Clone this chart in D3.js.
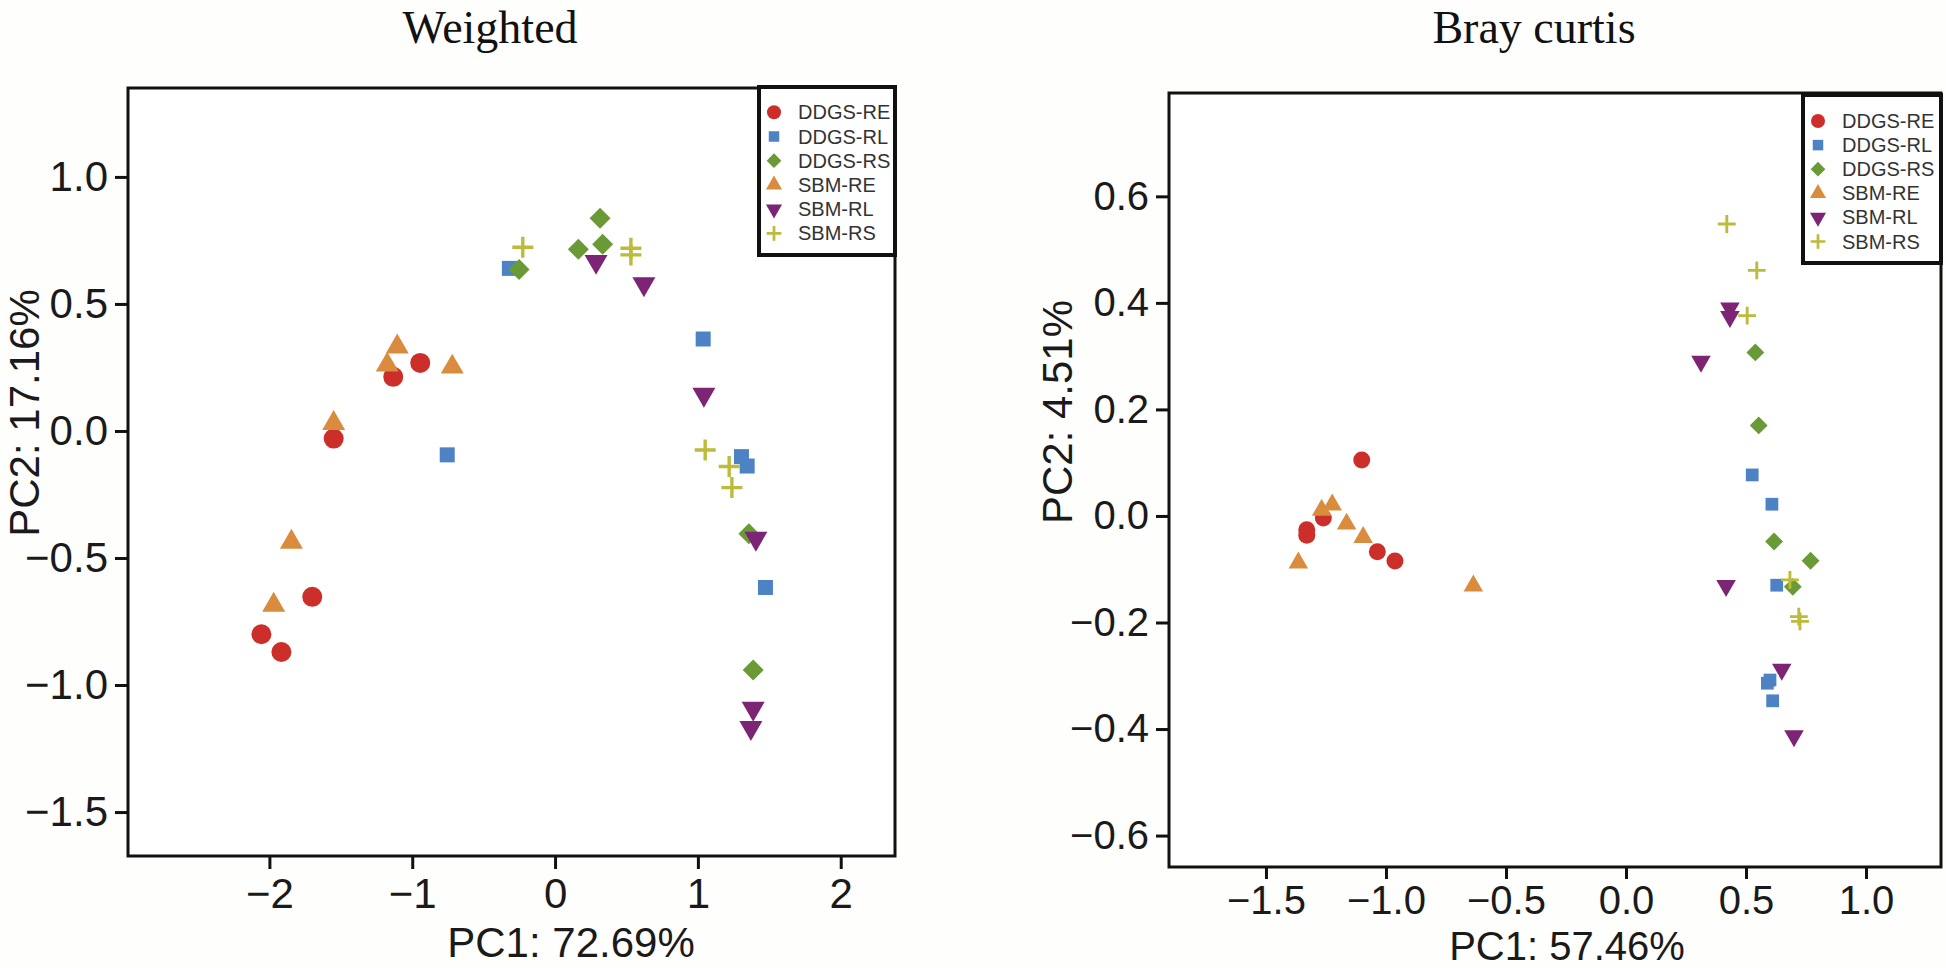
<!DOCTYPE html>
<html>
<head>
<meta charset="utf-8">
<script src="https://cdn.jsdelivr.net/npm/d3@7/dist/d3.min.js"></script>
<style>
  html, body { margin: 0; padding: 0; background: #fefefd; }
  svg { display: block; }
</style>
</head>
<body>
<svg id="chart" width="1946" height="968"></svg>
<script>
// ---------------- DATA ----------------
const categories = ["DDGS-RE", "DDGS-RL", "DDGS-RS", "SBM-RE", "SBM-RL", "SBM-RS"];

// Weighted PCoA  [PC1, PC2]
const weightedDDGS_RE = [[-1.133, 0.213], [-0.944, 0.268], [-1.55, -0.03], [-1.70, -0.653], [-2.056, -0.80], [-1.916, -0.87]];
const weightedDDGS_RL = [[-0.755, -0.094], [-0.32, 0.64], [1.037, 0.362], [1.305, -0.101], [1.345, -0.138], [1.473, -0.616]];
const weightedDDGS_RS = [[-0.252, 0.636], [0.315, 0.837], [0.163, 0.715], [0.333, 0.735], [1.357, -0.405], [1.387, -0.941]];
const weightedSBM_RE  = [[-1.105, 0.331], [-1.175, 0.26], [-0.72, 0.252], [-1.55, 0.03], [-1.846, -0.437], [-1.97, -0.685]];
const weightedSBM_RL  = [[0.287, 0.667], [0.622, 0.579], [1.042, 0.144], [1.406, -0.423], [1.387, -1.092], [1.371, -1.168]];
const weightedSBM_RS  = [[-0.226, 0.723], [0.531, 0.719], [0.531, 0.693], [1.051, -0.075], [1.219, -0.14], [1.238, -0.223]];

// Bray curtis PCoA  [PC1, PC2]
const brayDDGS_RE = [[-1.101, 0.105], [-1.261, -0.004], [-1.33, -0.026], [-1.33, -0.036], [-1.036, -0.067], [-0.9625, -0.0845]];
const brayDDGS_RL = [[0.526, 0.077], [0.608, 0.022], [0.628, -0.13], [0.60, -0.308], [0.589, -0.314], [0.611, -0.347]];
const brayDDGS_RS = [[0.539, 0.307], [0.553, 0.17], [0.617, -0.048], [0.769, -0.084], [0.695, -0.133]];
const braySBM_RE  = [[-1.268, 0.011], [-1.224, 0.021], [-1.164, -0.015], [-1.095, -0.04], [-1.365, -0.088], [-0.636, -0.131]];
const braySBM_RL  = [[0.433, 0.39], [0.433, 0.374], [0.3125, 0.29], [0.417, -0.131], [0.649, -0.288], [0.70, -0.413]];
const braySBM_RS  = [[0.42, 0.548], [0.545, 0.461], [0.505, 0.376], [0.683, -0.12], [0.72, -0.189], [0.725, -0.198]];

// Axis ticks and labels
const weightedXTicks = [-2, -1, 0, 1, 2];
const weightedYTicks = [-1.5, -1.0, -0.5, 0.0, 0.5, 1.0];
const weightedXDomain = [-2.99, 2.38];
const weightedYDomain = [-1.673, 1.35];
const brayXTicks = [-1.5, -1.0, -0.5, 0.0, 0.5, 1.0];
const brayYTicks = [-0.6, -0.4, -0.2, 0.0, 0.2, 0.4, 0.6];
const brayXDomain = [-1.904, 1.3125];
const brayYDomain = [-0.659, 0.794];
const titles = ["Weighted", "Bray curtis"];
const xTitles = ["PC1: 72.69%", "PC1: 57.46%"];
const yTitles = ["PC2: 17.16%", "PC2: 4.51%"];

// ---------------- STYLE ----------------
const colors = ["#cc2e29", "#4d82c4", "#6a9a36", "#d98c3d", "#7b2574", "#bcbb3b"];
const shapes = ["circle", "square", "diamond", "triangle", "down", "plus"];
const SANS = "'Liberation Sans', Arial, Helvetica, sans-serif";
const SERIF = "'Liberation Serif', 'Times New Roman', serif";

const panels = [
  {
    title: titles[0], xTitle: xTitles[0], yTitle: yTitles[0],
    series: [weightedDDGS_RE, weightedDDGS_RL, weightedDDGS_RS, weightedSBM_RE, weightedSBM_RL, weightedSBM_RS],
    xDomain: weightedXDomain, yDomain: weightedYDomain,
    xTicks: weightedXTicks, yTicks: weightedYTicks,
    xFmt: d3.format("d"), yFmt: d3.format(".1f"),
    frame: { x0: 128, x1: 895, y0: 88, y1: 856 },
    tickFont: 42, xTickSize: 13, xTickPad: 9, axisTitleFont: 42,
    titleX: 490, titleY: 43,
    xTitleX: 571, xTitleY: 957,
    yTitleX: 39, yTitleY: 413,
    legend: { x0: 759, x1: 895, y0: 87, y1: 255, symX: 774, textX: 798, rowY: 112.3, step: 24.2 },
    scale: 1.0
  },
  {
    title: titles[1], xTitle: xTitles[1], yTitle: yTitles[1],
    series: [brayDDGS_RE, brayDDGS_RL, brayDDGS_RS, braySBM_RE, braySBM_RL, braySBM_RS],
    xDomain: brayXDomain, yDomain: brayYDomain,
    xTicks: brayXTicks, yTicks: brayYTicks,
    xFmt: d3.format(".1f"), yFmt: d3.format(".1f"),
    frame: { x0: 1169, x1: 1941, y0: 93, y1: 867 },
    tickFont: 40, xTickSize: 12, xTickPad: 7, axisTitleFont: 40,
    titleX: 1534, titleY: 43,
    xTitleX: 1567, xTitleY: 959.5,
    yTitleX: 1072, yTitleY: 412,
    legend: { x0: 1803, x1: 1941, y0: 95, y1: 263, symX: 1818, textX: 1842, rowY: 121, step: 24.1 },
    scale: 0.85
  }
];

function markerPath(shape, k) {
  switch (shape) {
    case "circle":   return d3.symbol(d3.symbolCircle, Math.PI * Math.pow(10 * k, 2))();
    case "square":   return d3.symbol(d3.symbolSquare, Math.pow(15 * k, 2))();
    case "diamond": { const h = 10.5 * k; return `M0,${-h}L${h},0L0,${h}L${-h},0Z`; }
    case "triangle": { const s = 23 * k; return d3.symbol(d3.symbolTriangle, Math.sqrt(3) / 4 * s * s)(); }
    case "down":     { const s = 23 * k; return d3.symbol(d3.symbolTriangle, Math.sqrt(3) / 4 * s * s)(); }
    case "plus":     { const h = 10.5 * k; return `M${-h},0H${h}M0,${-h}V${h}`; }
  }
}

function drawMarker(g, shape, color, x, y, k) {
  const p = g.append("path")
    .attr("d", markerPath(shape, k))
    .attr("transform", `translate(${x},${y})` + (shape === "down" ? " rotate(180)" : ""));
  if (shape === "plus") {
    p.attr("fill", "none").attr("stroke", color).attr("stroke-width", 3.4 * Math.max(k, 0.8));
  } else {
    p.attr("fill", color);
  }
}

const svg = d3.select("#chart");

panels.forEach(P => {
  const f = P.frame;
  const x = d3.scaleLinear().domain(P.xDomain).range([f.x0, f.x1]);
  const y = d3.scaleLinear().domain(P.yDomain).range([f.y1, f.y0]);
  const g = svg.append("g");

  // plot background
  g.append("rect").attr("x", f.x0).attr("y", f.y0)
    .attr("width", f.x1 - f.x0).attr("height", f.y1 - f.y0)
    .attr("fill", "#ffffff");

  // axes
  const ax = g.append("g").attr("transform", `translate(0,${f.y1})`)
    .call(d3.axisBottom(x).tickValues(P.xTicks).tickFormat(P.xFmt).tickSize(P.xTickSize).tickPadding(P.xTickPad));
  const ay = g.append("g").attr("transform", `translate(${f.x0},0)`)
    .call(d3.axisLeft(y).tickValues(P.yTicks).tickFormat(P.yFmt).tickSize(13).tickPadding(7));
  [ax, ay].forEach(a => {
    a.select(".domain").remove();
    a.selectAll(".tick line").attr("stroke", "#111").attr("stroke-width", 3);
    a.selectAll(".tick text").attr("fill", "#1a1a1a")
      .style("font-family", SANS).style("font-size", P.tickFont + "px");
  });

  // points
  const pts = g.append("g");
  P.series.forEach((arr, i) => {
    arr.forEach(d => drawMarker(pts, shapes[i], colors[i], x(d[0]), y(d[1]), P.scale));
  });

  // frame
  g.append("rect").attr("x", f.x0).attr("y", f.y0)
    .attr("width", f.x1 - f.x0).attr("height", f.y1 - f.y0)
    .attr("fill", "none").attr("stroke", "#111").attr("stroke-width", 3);

  // legend
  const L = P.legend;
  const lg = g.append("g");
  lg.append("rect").attr("x", L.x0).attr("y", L.y0)
    .attr("width", L.x1 - L.x0).attr("height", L.y1 - L.y0)
    .attr("fill", "#ffffff").attr("stroke", "#111").attr("stroke-width", 4);
  categories.forEach((c, i) => {
    const cy = L.rowY + i * L.step;
    drawMarker(lg, shapes[i], colors[i], L.symX, cy, 0.7);
    lg.append("text").attr("x", L.textX).attr("y", cy)
      .attr("dominant-baseline", "central")
      .attr("fill", "#333")
      .style("font-family", SANS).style("font-size", "20px")
      .text(c);
  });

  // titles
  g.append("text").attr("x", P.titleX).attr("y", P.titleY)
    .attr("text-anchor", "middle").attr("fill", "#111")
    .style("font-family", SERIF).style("font-size", "46px")
    .text(P.title);
  g.append("text").attr("x", P.xTitleX).attr("y", P.xTitleY)
    .attr("text-anchor", "middle").attr("fill", "#1a1a1a")
    .style("font-family", SANS).style("font-size", P.axisTitleFont + "px")
    .text(P.xTitle);
  g.append("text")
    .attr("transform", `translate(${P.yTitleX},${P.yTitleY}) rotate(-90)`)
    .attr("text-anchor", "middle").attr("fill", "#1a1a1a")
    .style("font-family", SANS).style("font-size", "42px")
    .text(P.yTitle);
});
</script>
</body>
</html>
